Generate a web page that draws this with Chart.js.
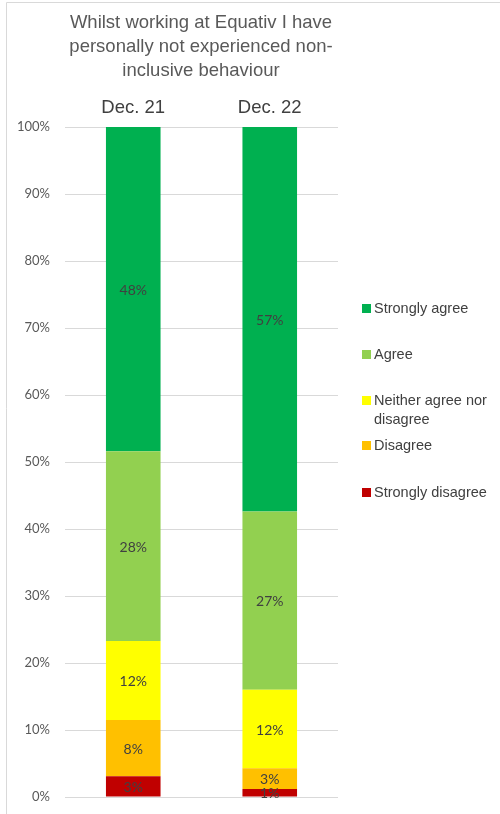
<!DOCTYPE html>
<html>
<head>
<meta charset="utf-8">
<script src="https://cdn.jsdelivr.net/npm/chart.js@4.4.0/dist/chart.umd.min.js"></script>
<style>
  html, body { margin: 0; padding: 0; background: #fff; }
  #wrap { width: 500px; height: 814px; position: relative; }
</style>
</head>
<body>
<div id="wrap"><canvas id="c" width="500" height="814"></canvas></div>
<script>
const categories = ["Dec. 21", "Dec. 22"];
const seriesNames = ["Strongly disagree", "Disagree", "Neither agree nor disagree", "Agree", "Strongly agree"];
const stronglyDisagree = [3.1, 1.2];
const disagree = [8.4, 3.1];
const neither = [11.8, 11.7];
const agree = [28.3, 26.6];
const stronglyAgree = [48.4, 57.4];
const valueLabels = [["3%", "1%"], ["8%", "3%"], ["12%", "12%"], ["28%", "27%"], ["48%", "57%"]];
const yTicks = [0, 10, 20, 30, 40, 50, 60, 70, 80, 90, 100];
const titleLines = ["Whilst working at Equativ I have", "personally not experienced non-", "inclusive behaviour"];
const legendLines = [["Strongly agree"], ["Agree"], ["Neither agree nor", "disagree"], ["Disagree"], ["Strongly disagree"]];

const colors = ["#C00000", "#FFC000", "#FFFF00", "#92D050", "#00B050"];
const seriesData = [stronglyDisagree, disagree, neither, agree, stronglyAgree];

const decorPlugin = {
  id: 'decor',
  beforeDraw(chart) {
    const ctx = chart.ctx;
    ctx.save();
    ctx.strokeStyle = '#d9d9d9';
    ctx.lineWidth = 1;
    ctx.beginPath();
    ctx.moveTo(6.5, 814);
    ctx.lineTo(6.5, 2.5);
    ctx.lineTo(500, 2.5);
    ctx.stroke();
    ctx.restore();
  },
  afterDraw(chart) {
    const ctx = chart.ctx;
    ctx.save();
    // Title
    ctx.fillStyle = '#595959';
    ctx.font = '18.5px "Liberation Sans", Arial, sans-serif';
    ctx.textAlign = 'center';
    ctx.textBaseline = 'middle';
    titleLines.forEach((t, i) => ctx.fillText(t, 201, 23 + i * 24));
    // Value labels
    ctx.font = '14px Lato, "Open Sans", sans-serif';
    ctx.fillStyle = '#404040';
    chart.data.datasets.forEach((ds, di) => {
      const meta = chart.getDatasetMeta(di);
      meta.data.forEach((bar, i) => {
        const yMid = (bar.y + bar.base) / 2;
        ctx.fillText(valueLabels[di][i], bar.x, yMid + 1);
      });
    });
    // Legend (top to bottom: reverse of stack)
    ctx.textAlign = 'left';
    ctx.font = '14.5px "Liberation Sans", Arial, sans-serif';
    const legendY = [309, 355, 401, 446, 493];
    for (let k = 0; k < 5; k++) {
      const di = 4 - k;
      const y = legendY[k];
      ctx.fillStyle = colors[di];
      ctx.fillRect(362, y - 5, 9, 9);
      ctx.fillStyle = '#404040';
      legendLines[k].forEach((line, li) => ctx.fillText(line, 374, y + li * 19));
    }
    ctx.restore();
  }
};

new Chart(document.getElementById('c'), {
  type: 'bar',
  data: {
    labels: categories,
    datasets: seriesNames.map((name, i) => ({
      label: name,
      data: seriesData[i],
      backgroundColor: colors[i],
      borderWidth: 0,
      barPercentage: 0.8,
      categoryPercentage: 0.5
    }))
  },
  options: {
    responsive: false,
    animation: false,
    events: [],
    layout: { padding: { left: 7, right: 162, top: 0, bottom: 17 } },
    plugins: { legend: { display: false }, title: { display: false }, tooltip: { enabled: false } },
    scales: {
      x: {
        position: 'top',
        stacked: true,
        grid: { display: false, drawBorder: false },
        border: { display: false },
        ticks: { color: '#404040', font: { family: '"Liberation Sans", Arial, sans-serif', size: 18.5 }, padding: 0 },
        afterFit(scale) { scale.height = 127; }
      },
      y: {
        stacked: true,
        min: 0,
        max: 100,
        afterBuildTicks(scale) { scale.ticks = yTicks.map(v => ({ value: v })); },
        grid: { color: '#d9d9d9', drawTicks: false },
        border: { display: false },
        ticks: {
          color: '#595959',
          font: { family: 'Lato, "Open Sans", sans-serif', size: 13 },
          padding: 15,
          callback: v => v + '%'
        },
        afterFit(scale) { scale.width = 58; scale.paddingTop = 0; scale.paddingBottom = 0; }
      }
    }
  },
  plugins: [decorPlugin]
});
</script>
</body>
</html>
